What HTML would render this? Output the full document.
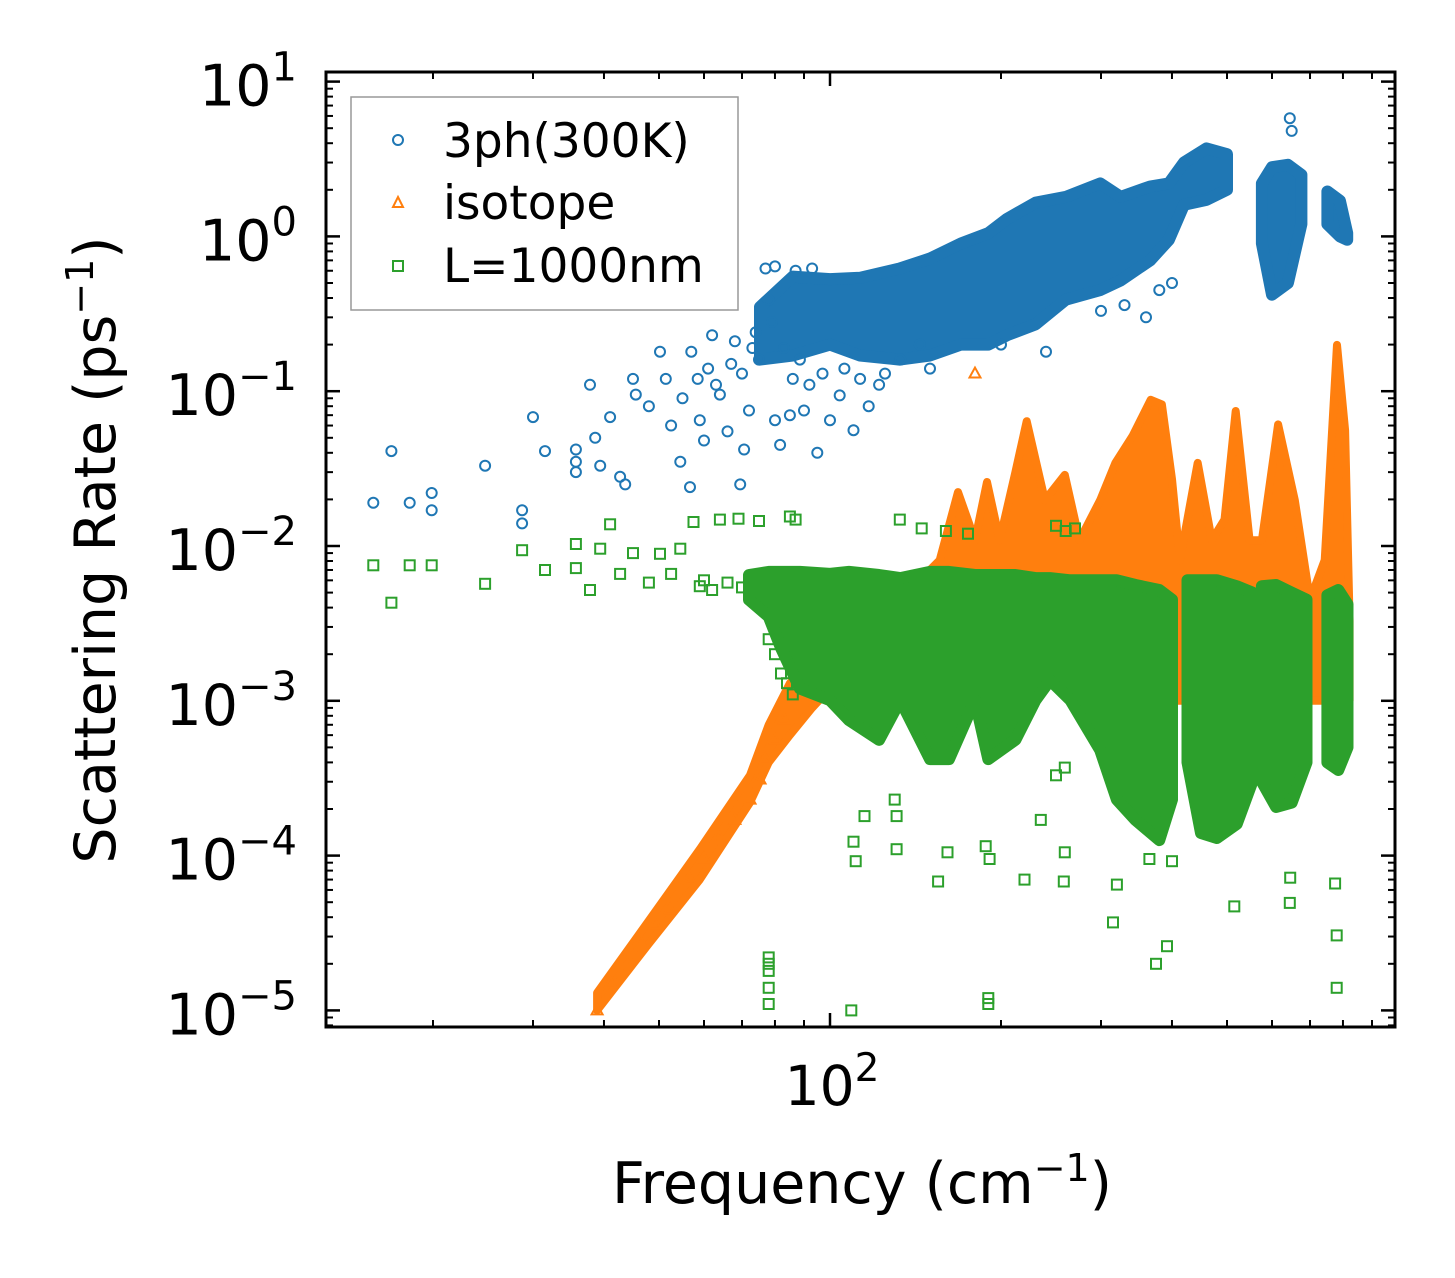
<!DOCTYPE html>
<html><head><meta charset="utf-8"><style>
html,body{margin:0;padding:0;background:#fff;}
svg{display:block;font-family:"DejaVu Sans","Liberation Sans",sans-serif;}
</style></head><body>
<svg id="chart" width="1455" height="1278" viewBox="0 0 1455 1278" xmlns="http://www.w3.org/2000/svg">
<rect width="1455" height="1278" fill="#fff"/>
<g id="marks"></g>
<g id="axes"></g>
<g id="legend">
<rect x="351" y="97" width="387" height="213" fill="#fff" stroke="#999" stroke-width="1.5"/>
<circle cx="398" cy="140" r="5" fill="none" stroke="#1f77b4" stroke-width="2"/>
<text x="443" y="157" font-size="47">3ph(300K)</text>
<polygon points="398,197 403,207 393,207" fill="none" stroke="#ff7f0e" stroke-width="2"/>
<text x="443" y="219" font-size="47">isotope</text>
<rect x="393" y="261" width="10" height="10" fill="none" stroke="#2ca02c" stroke-width="2"/>
<text x="443" y="282" font-size="47">L=1000nm</text>
</g>
<text x="862" y="1203" font-size="57" text-anchor="middle">Frequency (cm<tspan dy="-22" font-size="38">−1</tspan><tspan dy="22">)</tspan></text>
<text transform="translate(115,550) rotate(-90)" font-size="57" text-anchor="middle">Scattering Rate (ps<tspan dy="-22" font-size="38">−1</tspan><tspan dy="22">)</tspan></text>
</svg>
<script>
// ---- data ----
const blueF = [15.7,16.9,18.2,19.9,19.9,24.7,28.7,28.7,30,31.5,35.7,35.7,35.7,37.8,38.6,39.4,41,42.7,43.6,45,45.5,48,50.2,51.4,52.5,54.5,56.7,57,58.5,59,60,62,64,66,68,69.5,70.6,72,75,78,80,81.7,85,88.5,90,95,100,104,110,117,122,133,144,77,80,87,93,55,61,63,67,70,73,74,79,83,86,92,97,106,113,125,150,200,240,300,330,360,380,400,645,650];
const blueR = [0.019,0.041,0.019,0.022,0.017,0.033,0.017,0.014,0.068,0.041,0.042,0.035,0.03,0.11,0.05,0.033,0.068,0.028,0.025,0.12,0.095,0.08,0.18,0.12,0.06,0.035,0.024,0.18,0.12,0.065,0.048,0.23,0.095,0.055,0.21,0.025,0.042,0.075,0.16,0.39,0.065,0.045,0.07,0.16,0.075,0.04,0.065,0.094,0.056,0.08,0.11,0.16,0.2,0.62,0.64,0.6,0.62,0.09,0.14,0.11,0.15,0.13,0.19,0.24,0.28,0.19,0.12,0.11,0.13,0.14,0.12,0.13,0.14,0.2,0.18,0.33,0.36,0.3,0.45,0.5,5.8,4.8];
const blueBandF  = [75.3,86,100,112.9,132.7,150,170,190,205,230,260,299,325,366,395,420,460,500,null,576,600,640,676,null,751,790,814];
const blueBandLo = [0.16,0.17,0.2,0.17,0.16,0.17,0.2,0.2,0.23,0.27,0.39,0.45,0.52,0.7,0.95,1.6,1.72,2.0,null,0.9,0.42,0.5,1.2,null,1.2,1.0,0.95];
const blueBandHi = [0.35,0.55,0.53,0.54,0.62,0.72,0.9,1.05,1.3,1.65,1.8,2.2,1.8,2.1,2.2,3.0,3.7,3.4,null,2.2,2.8,2.9,2.5,null,1.95,1.7,1.05];

const orangeF = [38.9,41.1,43.6,46.2,49.2,52.3,56.7,60,64,68,72.3,75.3,76.9,80,83,87,90,94,100,180];
const orangeR = [1e-5,1.5e-5,2.1e-5,2.85e-5,3.6e-5,4.5e-5,7e-5,9.6e-5,1.3e-4,1.7e-4,2.3e-4,3.1e-4,4.2e-4,5.6e-4,7.6e-4,1.2e-3,1.6e-3,1.8e-3,2.1e-3,0.13];
const orangeBandF  = [38.9,48,59,72.3,78,85,93,100,133,156,168,180,189,199,212,222,239,259,275,299,318,341,367,384,400,413,444,470,495,518,548,576,615,658,700,743,781,807,822];
const orangeBandLo = [1e-5,2.7e-5,7e-5,2.2e-4,4e-4,6e-4,9e-4,1.2e-3,2e-3,2e-3,2e-3,2e-3,2e-3,2e-3,2e-3,2e-3,2e-3,2e-3,2e-3,1e-3,1e-3,1e-3,1e-3,1e-3,1e-3,1e-3,1e-3,1e-3,1e-3,1e-3,1e-3,1e-3,1e-3,1e-3,1e-3,1e-3,1e-3,1e-3,1e-3];
const orangeBandHi = [1.3e-5,3.8e-5,1.1e-4,3.3e-4,7e-4,1.3e-3,1.9e-3,2.2e-3,4.5e-3,8.1e-3,0.0223,0.0109,0.0259,0.0109,0.03,0.064,0.0198,0.0288,0.0109,0.0198,0.0344,0.0514,0.088,0.082,0.027,0.0081,0.0344,0.0109,0.0148,0.0745,0.0109,0.0109,0.061,0.0198,0.0045,0.0081,0.199,0.056,0.0033];

const greenF = [15.7,16.9,18.2,19.9,24.7,28.7,31.5,35.7,35.7,37.8,39.4,41,42.7,45,48,50.2,52.5,54.5,57.5,60,64,69,75,85,87,59,62,66,70,72,132.7,145,160,175,250,260,270,78,78,78,78,78,109,190,190,110,111,131,115,131,130,161,155,220,258,259,315,320,392,375,515,645,646,780,780,775,188,191,235,250,259,400,365,78,80,82,84,86];
const greenR = [0.0075,0.0043,0.0075,0.0075,0.0057,0.0094,0.007,0.0103,0.0072,0.0052,0.0096,0.0138,0.0066,0.009,0.0058,0.0089,0.0066,0.0096,0.0143,0.006,0.0148,0.015,0.0145,0.0155,0.0148,0.0055,0.0052,0.0058,0.0054,0.006,0.0148,0.013,0.0125,0.012,0.0135,0.0125,0.013,2.2e-5,2e-5,1.8e-5,1.4e-5,1.1e-5,1e-5,1.1e-5,1.2e-5,1.23e-4,9.2e-5,1.1e-4,1.8e-4,1.8e-4,2.3e-4,1.05e-4,6.8e-5,7e-5,6.8e-5,1.05e-4,3.7e-5,6.5e-5,2.6e-5,2e-5,4.7e-5,4.95e-5,7.2e-5,3.05e-5,1.4e-5,6.6e-5,1.15e-4,9.5e-5,1.7e-4,3.3e-4,3.7e-4,9.2e-5,9.5e-5,0.0025,0.002,0.0015,0.0013,0.0011];
const greenBandF  = [72,78,82,88.5,100,108,122,133,150,162,180,190,212,230,244,265,299,320,345,380,400,null,426,450,480,520,554,null,576,610,650,690,null,751,785,815];
const greenBandLo = [0.0045,0.0035,0.0022,0.0012,0.00101,0.00075,0.00056,0.00101,0.00042,0.00042,0.00101,0.00042,0.00056,0.00101,0.00136,0.00101,0.00048,0.00023,0.00017,0.000126,0.00023,null,0.0004,0.00014,0.00013,0.00016,0.0003,null,0.0003,0.000206,0.00022,0.0004,null,0.0004,0.000357,0.0005];
const greenBandHi = [0.0065,0.0068,0.0068,0.0068,0.0066,0.0068,0.0065,0.0062,0.0068,0.0068,0.0065,0.0065,0.0065,0.0062,0.0062,0.006,0.006,0.006,0.0056,0.0052,0.0045,null,0.006,0.006,0.006,0.0055,0.005,null,0.0055,0.0056,0.005,0.0045,null,0.0048,0.0052,0.0042];

const yTickExps = [1,0,-1,-2,-3,-4,-5];
const xTickVals = [100];

// ---- axis functions ----
const X0=326, X1=1395, Y0=72, Y1=1027;
function X(f){ return 830 + 568*(Math.log10(f)-2); }
function Y(r){ return 236.4 - 154.8*Math.log10(r); }

const NS='http://www.w3.org/2000/svg';
const marks=document.getElementById('marks');
const axes=document.getElementById('axes');
function mk(tag, attrs, parent){
  const e=document.createElementNS(NS,tag);
  for(const k in attrs) e.setAttribute(k, attrs[k]);
  parent.appendChild(e); return e;
}
const C={b:'#1f77b4',o:'#ff7f0e',g:'#2ca02c'};

function drawBand(F,Lo,Hi,color,name,sw){
  let seg=[];
  const segs=[];
  for(let i=0;i<F.length;i++){
    if(F[i]===null){ if(seg.length) segs.push(seg); seg=[]; }
    else seg.push(i);
  }
  if(seg.length) segs.push(seg);
  segs.forEach(s=>{
    const top=s.map(i=>X(F[i]).toFixed(1)+','+Y(Hi[i]).toFixed(1));
    const bot=s.slice().reverse().map(i=>X(F[i]).toFixed(1)+','+Y(Lo[i]).toFixed(1));
    const p=mk('polygon',{points:top.concat(bot).join(' '),fill:color,stroke:color,'stroke-width':sw,'stroke-linejoin':'round'},marks);
    
    
  });
}

// blue
drawBand(blueBandF,blueBandLo,blueBandHi,C.b,'3ph-dense',12);
for(let i=0;i<blueF.length;i++){
  const c=mk('circle',{cx:X(blueF[i]).toFixed(1),cy:Y(blueR[i]).toFixed(1),r:5,fill:'none',stroke:C.b,'stroke-width':2},marks);
  
  
}
// orange
drawBand(orangeBandF,orangeBandLo,orangeBandHi,C.o,'isotope-dense',8);
for(let i=0;i<orangeF.length;i++){
  const x=X(orangeF[i]), y=Y(orangeR[i]);
  const t=mk('polygon',{points:`${x},${y-6} ${x+5.5},${y+4} ${x-5.5},${y+4}`,fill:'none',stroke:C.o,'stroke-width':2},marks);
  
  
}
// green
drawBand(greenBandF,greenBandLo,greenBandHi,C.g,'boundary-dense',12);
for(let i=0;i<greenF.length;i++){
  const x=X(greenF[i]), y=Y(greenR[i]);
  const s=mk('rect',{x:(x-5).toFixed(1),y:(y-5).toFixed(1),width:10,height:10,fill:'none',stroke:C.g,'stroke-width':2},marks);
  
  
}

// axes frame
const fr=mk('rect',{x:X0,y:Y0,width:X1-X0,height:Y1-Y0,fill:'none',stroke:'#000','stroke-width':3},axes);



// y ticks
for(let e=-6;e<=1;e++){
  for(let m=1;m<10;m++){
    const v=m*Math.pow(10,e); const y=Y(v);
    if(y<Y0-0.5||y>Y1+0.5) continue;
    const L=m===1?14:7, w=m===1?2.5:2;
    const t1=mk('line',{x1:X0,x2:X0+L,y1:y,y2:y,stroke:'#000','stroke-width':w},axes);
    
    
    const t2=mk('line',{x1:X1,x2:X1-L,y1:y,y2:y,stroke:'#000','stroke-width':w},axes);
    
    
  }
}
yTickExps.forEach(e=>{
  const y=Y(Math.pow(10,e));
  const t=mk('text',{x:297,y:y+24,'font-size':57,'text-anchor':'end'},axes);
  
  
  t.appendChild(document.createTextNode('10'));
  const sp=mk('tspan',{dy:-25,'font-size':40},t);
  sp.textContent=(e<0?'−'+(-e):String(e));
});
// x ticks
for(let e=1;e<=2;e++){
  for(let m=1;m<10;m++){
    const v=m*Math.pow(10,e); const x=X(v);
    if(x<X0-0.5||x>X1+0.5) continue;
    const L=m===1?14:7, w=m===1?2.5:2;
    const t1=mk('line',{x1:x,x2:x,y1:Y1,y2:Y1-L,stroke:'#000','stroke-width':w},axes);
    
    
    const t2=mk('line',{x1:x,x2:x,y1:Y0,y2:Y0+L,stroke:'#000','stroke-width':w},axes);
    
    
  }
}
xTickVals.forEach(v=>{
  const x=X(v);
  const t=mk('text',{x:x+2,y:1105,'font-size':55,'text-anchor':'middle'},axes);
  
  
  t.appendChild(document.createTextNode('10'));
  const sp=mk('tspan',{dy:-24,'font-size':39},t);
  sp.textContent=String(Math.round(Math.log10(v)));
});
</script>
</body></html>
